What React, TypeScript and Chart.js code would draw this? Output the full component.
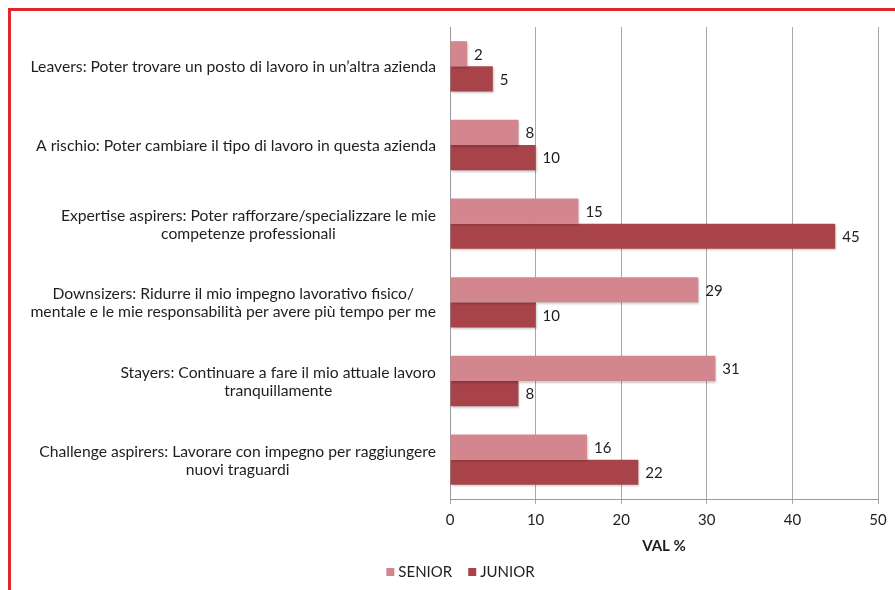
import React, { useEffect, useRef } from "react";
import { Chart, registerables } from "chart.js";

Chart.register(...registerables);

const categories: string[][] = [
  ["Leavers: Poter trovare un posto di lavoro in un’altra azienda"],
  ["A rischio: Poter cambiare il tipo di lavoro in questa azienda"],
  ["Expertise aspirers: Poter rafforzare/specializzare le mie", "competenze professionali"],
  ["Downsizers: Ridurre il mio impegno lavorativo fisico/", "mentale e le mie responsabilità per avere più tempo per me"],
  ["Stayers: Continuare a fare il mio attuale lavoro", "tranquillamente"],
  ["Challenge aspirers: Lavorare con impegno per raggiungere", "nuovi traguardi"],
];
const seniorValues = [2, 8, 15, 29, 31, 16];
const juniorValues = [5, 10, 45, 10, 8, 22];
const seriesNames = ["SENIOR", "JUNIOR"];
const seriesColors = ["#d4868e", "#a8434a"];
const xMin = 0;
const xMax = 50;
const xStep = 10;
const xTitle = "VAL %";

const FONT = "Lato, 'Liberation Sans', sans-serif";
const TEXT = "#1e1e1e";

const shadowPlugin = {
  id: "barShadow",
  beforeDatasetsDraw(chart: any) {
    const ctx = chart.ctx;
    ctx.save();
    ctx.shadowColor = "rgba(0,0,0,0.22)";
    ctx.shadowBlur = 2;
    ctx.shadowOffsetX = 1;
    ctx.shadowOffsetY = 1.5;
  },
  afterDatasetsDraw(chart: any) {
    chart.ctx.restore();
  },
};

const valueLabelPlugin = {
  id: "valueLabels",
  afterDraw(chart: any) {
    const ctx = chart.ctx;
    ctx.save();
    ctx.font = `15px ${FONT}`;
    ctx.fillStyle = TEXT;
    ctx.textAlign = "left";
    ctx.textBaseline = "middle";
    chart.data.datasets.forEach((ds: any, di: number) => {
      const meta = chart.getDatasetMeta(di);
      meta.data.forEach((el: any, i: number) => {
        ctx.fillText(String(ds.data[i]), el.x + 7, el.y + 1);
      });
    });
    ctx.restore();
  },
};

const categoryLabelPlugin = {
  id: "categoryLabels",
  afterDraw(chart: any) {
    const ctx = chart.ctx;
    const yScale = chart.scales.y;
    const right = chart.chartArea.left - 14;
    const lh = 18;
    ctx.save();
    ctx.font = `15.7px ${FONT}`;
    ctx.fillStyle = TEXT;
    ctx.textAlign = "center";
    ctx.textBaseline = "middle";
    categories.forEach((lines, i) => {
      const cy = yScale.getPixelForValue(i);
      const maxW = Math.max(...lines.map((l) => ctx.measureText(l).width));
      const cx = right - maxW / 2;
      lines.forEach((line, k) => {
        ctx.fillText(line, cx, cy - ((lines.length - 1) * lh) / 2 + k * lh + 1);
      });
    });
    ctx.restore();
  },
};

const legendPlugin = {
  id: "customLegend",
  afterDraw(chart: any) {
    const ctx = chart.ctx;
    ctx.save();
    ctx.font = `15px ${FONT}`;
    ctx.textBaseline = "middle";
    ctx.textAlign = "left";
    const box = 8;
    const gap = 4;
    const spacing = 16;
    const items = chart.data.datasets.map((ds: any) => ({
      label: ds.label,
      color: ds.backgroundColor,
      w: box + gap + ctx.measureText(ds.label).width,
    }));
    const total = items.reduce((s: number, it: any) => s + it.w, 0) + spacing * (items.length - 1);
    let x = chart.width / 2 + 13 - total / 2;
    const y = 572;
    items.forEach((it: any) => {
      ctx.fillStyle = it.color;
      ctx.fillRect(x, y - box / 2, box, box);
      ctx.fillStyle = TEXT;
      ctx.fillText(it.label, x + box + gap, y);
      x += it.w + spacing;
    });
    ctx.restore();
  },
};

export default function App() {
  const canvasRef = useRef<HTMLCanvasElement | null>(null);

  useEffect(() => {
    if (!canvasRef.current) return;
    const chart = new Chart(canvasRef.current, {
      type: "bar",
      data: {
        labels: categories.map((c) => c.join(" ")),
        datasets: [
          {
            label: seriesNames[0],
            data: seniorValues,
            backgroundColor: seriesColors[0],
            borderWidth: 0,
            categoryPercentage: 0.64,
            barPercentage: 1,
          },
          {
            label: seriesNames[1],
            data: juniorValues,
            backgroundColor: seriesColors[1],
            borderWidth: 0,
            categoryPercentage: 0.64,
            barPercentage: 1,
          },
        ],
      },
      options: {
        indexAxis: "y",
        animation: false,
        responsive: true,
        maintainAspectRatio: false,
        layout: { padding: { top: 27, right: 17, left: 0, bottom: 34 } },
        plugins: {
          legend: { display: false },
          tooltip: { enabled: false },
        },
        scales: {
          y: {
            type: "category",
            ticks: { display: false },
            grid: { display: false },
            border: { display: true, color: "#9a9a9a", width: 1 },
            afterFit: (scale: any) => {
              scale.width = 450;
            },
          },
          x: {
            type: "linear",
            min: xMin,
            max: xMax,
            ticks: {
              stepSize: xStep,
              font: { family: FONT, size: 15 },
              color: TEXT,
              padding: 7,
            },
            grid: {
              color: "#a8a8a8",
              lineWidth: 1,
              tickLength: 5,
              drawTicks: true,
            },
            border: { display: true, color: "#9a9a9a", width: 1 },
            title: {
              display: true,
              text: xTitle,
              font: { family: FONT, size: 15, weight: "bold" },
              color: TEXT,
              padding: { top: 0, bottom: 1 },
            },
            afterFit: (scale: any) => {
              scale.height = 57;
            },
          },
        },
      },
      plugins: [shadowPlugin, valueLabelPlugin, categoryLabelPlugin, legendPlugin],
    } as any);
    return () => chart.destroy();
  }, []);

  return (
    <div style={{ position: "fixed", left: 0, top: 0, width: 895, height: 590, overflow: "hidden", background: "#fff" }}>
      <div
        style={{
          position: "absolute",
          left: 8,
          top: 8,
          width: 2000,
          height: 2000,
          borderTop: "3px solid #e0262f",
          borderLeft: "3px solid #e0262f",
          boxSizing: "border-box",
        }}
      />
      <div style={{ position: "absolute", left: 0, top: 0, width: 895, height: 590 }}>
        <canvas ref={canvasRef} />
      </div>
    </div>
  );
}
